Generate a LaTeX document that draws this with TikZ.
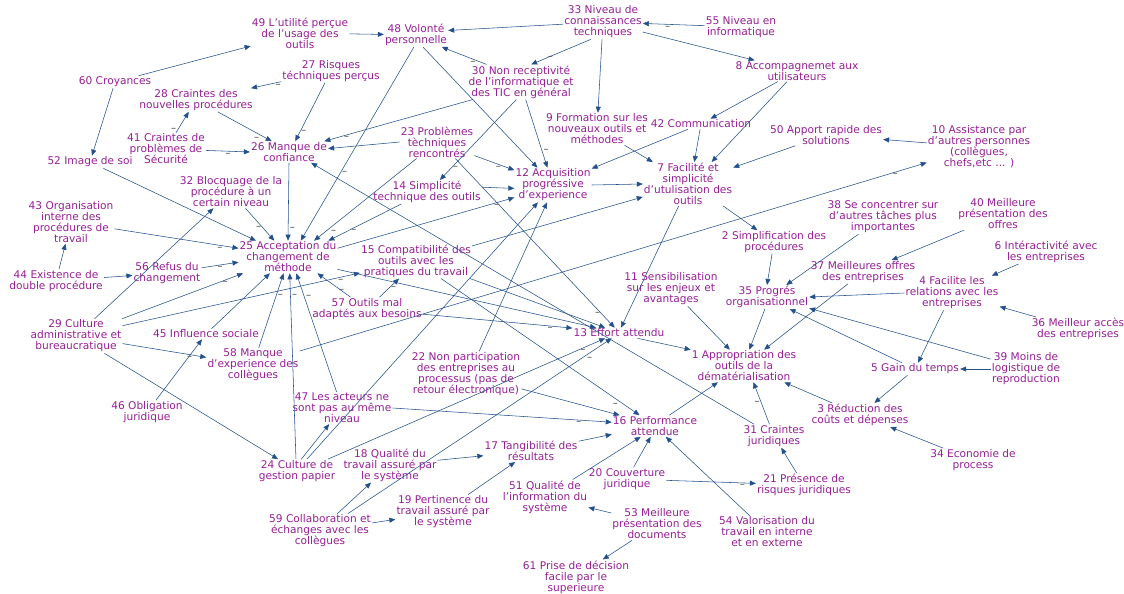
\documentclass[tikz,border=0pt]{standalone}
\usepackage{fontspec}
\setmainfont{DejaVu Sans}
\usetikzlibrary{arrows.meta}
\definecolor{varcol}{RGB}{150,30,150}
\definecolor{liencol}{RGB}{35,80,140}
\tikzset{
  var/.style={text=varcol, align=center, inner sep=1pt, font=\fontsize{10.6}{11}\selectfont},
  lien/.style={draw=liencol, line width=0.55pt, -{Triangle[length=6pt,width=5pt]}},
  moins/.style={text=black!75, inner sep=1.5pt, font=\fontsize{10}{10}\selectfont}
}
\begin{document}
\begin{tikzpicture}[x=1pt, y=-1pt]
  \useasboundingbox (0,0) rectangle (1124,594);
  % variables
  \node[var] (n49) at (300,33) {49 L'utilité perçue\\de l'usage des\\outils};
  \node[var] (n48) at (416,35) {48 Volonté\\personnelle};
  \node[var] (n33) at (603,22) {33 Niveau de\\connaissances\\techniques};
  \node[var] (n55) at (741,27) {55 Niveau en\\informatique};
  \node[var] (n8) at (797,71) {8 Accompagnemet aux\\utilisateurs};
  \node[var] (n60) at (115,82) {60 Croyances};
  \node[var] (n27) at (331,71) {27 Risques\\téchniques perçus};
  \node[var] (n28) at (196,100) {28 Craintes des\\nouvelles procédures};
  \node[var] (n30) at (521,82) {30 Non receptivité\\de l'informatique et\\des TIC en général};
  \node[var] (n9) at (597,129) {9 Formation sur les\\nouveaux outils et\\méthodes};
  \node[var] (n42) at (701,124) {42 Communication};
  \node[var] (n50) at (826,135) {50 Apport rapide des\\solutions};
  \node[var] (n10) at (979,147) {10 Assistance par\\d'autres personnes\\(collègues,\\chefs,etc ... )};
  \node[var] (n41) at (166,149) {41 Craintes de\\problèmes de\\Sécurité};
  \node[var] (n26) at (289,152) {26 Manque de\\confiance};
  \node[var] (n23) at (437,142) {23 Problèmes\\tèchniques\\rencontrés};
  \node[var] (n52) at (90,162) {52 Image de soi};
  \node[var] (n7) at (688,184) {7 Facilité et\\simplicité\\d'utulisation des\\outils};
  \node[var] (n12) at (553,185) {12 Acquisition\\progréssive\\d'experience};
  \node[var] (n14) at (427,192) {14 Simplicité\\technique des outils};
  \node[var] (n32) at (231,192) {32 Blocquage de la\\procédure à un\\certain niveau};
  \node[var] (n43) at (71,222) {43 Organisation\\interne des\\procédures de\\travail};
  \node[var] (n38) at (883,217) {38 Se concentrer sur\\d'autres tâches plus\\importantes};
  \node[var] (n40) at (1003,214) {40 Meilleure\\présentation des\\offres};
  \node[var] (n2) at (774,242) {2 Simplification des\\procédures};
  \node[var] (n25) at (288,257) {25 Acceptation du\\changement de\\méthode};
  \node[var] (n15) at (416,261) {15 Compatibilité des\\outils avec les\\pratiques du travail};
  \node[var] (n6) at (1046,252) {6 Intéractivité avec\\les entreprises};
  \node[var] (n37) at (863,272) {37 Meilleures offres\\des entreprises};
  \node[var] (n44) at (56,281) {44 Existence de\\double procédure};
  \node[var] (n56) at (167,273) {56 Refus du\\changement};
  \node[var] (n11) at (671,289) {11 Sensibilisation\\sur les enjeux et\\avantages};
  \node[var] (n35) at (767,297) {35 Progrés\\organisationnel};
  \node[var] (n4) at (952,293) {4 Facilite les\\relations avec les\\entreprises};
  \node[var] (n36) at (1078,329) {36 Meilleur accès\\des entreprises};
  \node[var] (n57) at (367,309) {57 Outils mal\\adaptés aux besoins};
  \node[var] (n29) at (76,336) {29 Culture\\administrative et\\bureaucratique};
  \node[var] (n45) at (206,334) {45 Influence sociale};
  \node[var] (n13) at (619,333) {13 Effort attendu};
  \node[var] (n58) at (253,365) {58 Manque\\d'experience des\\collègues};
  \node[var] (n1) at (744,366) {1 Appropriation des\\outils de la\\dématérialisation};
  \node[var] (n22) at (466,374) {22 Non participation\\des entreprises au\\processus (pas de\\retour électronique)};
  \node[var] (n39) at (1026,369) {39 Moins de\\logistique de\\reproduction};
  \node[var] (n5) at (915,369) {5 Gain du temps};
  \node[var] (n47) at (342,408) {47 Les acteurs ne\\sont pas au même\\niveau};
  \node[var] (n46) at (147,412) {46 Obligation\\juridique};
  \node[var] (n3) at (860,415) {3 Réduction des\\coûts et dépenses};
  \node[var] (n16) at (655,426) {16 Performance\\attendue};
  \node[var] (n31) at (774,436) {31 Craintes\\juridiques};
  \node[var] (n34) at (973,460) {34 Economie de\\process};
  \node[var] (n24) at (297,471) {24 Culture de\\gestion papier};
  \node[var] (n18) at (390,465) {18 Qualité du\\travail assuré par\\le système};
  \node[var] (n17) at (531,451) {17 Tangibilité des\\résultats};
  \node[var] (n20) at (627,479) {20 Couverture\\juridique};
  \node[var] (n21) at (804,485) {21 Présence de\\risques juridiques};
  \node[var] (n51) at (545,497) {51 Qualité de\\l'information du\\système};
  \node[var] (n59) at (320,531) {59 Collaboration et\\échanges avec les\\collègues};
  \node[var] (n19) at (443,512) {19 Pertinence du\\travail assuré par\\le système};
  \node[var] (n53) at (657,524) {53 Meilleure\\présentation des\\documents};
  \node[var] (n54) at (767,532) {54 Valorisation du\\travail en interne\\et en externe};
  \node[var] (n61) at (576,577) {61 Prise de décision\\facile par le\\superieure};

  % liens du haut
  \draw[lien] (n60) -- (n49);
  \draw[lien] (n60) -- (n52);
  \draw[lien] (n49) -- (n48);
  \draw[lien] (n33) -- (n48.8);
  \draw[lien] (n30.153) -- node[moins, pos=.3, below]{–} (n48.-25);
  \draw[lien] (n33.235) -- node[moins, pos=.75, right]{–} (n30.60);
  \draw[lien] (n55) -- node[moins, pos=.6, below]{–} (n33);
  \draw[lien] (n33) -- (n8);
  \draw[lien] (n33) -- (n9);
  \draw[lien] (n8) -- (n42);
  \draw[lien] (n8) -- (n7.43);
  \draw[lien] (n42) -- (n7.74);
  \draw[lien] (n42) -- (n12.23);
  \draw[lien] (n9) -- (n7.148);
  \draw[lien] (n50) -- (n7.20);
  \draw[lien] (n10) -- (n50);
  \draw[lien] (n12.east) -- (n7.west);
  \draw[lien] (n27) -- node[moins, pos=.1, below]{–} (n28);
  \draw[lien] (n27) -- node[moins, pos=.85, right]{–} (n26.60);
  \draw[lien] (n28) -- node[moins, pos=.8, below left]{–} (n26.148);
  \draw[lien] (n41) -- node[moins, pos=.15, left]{–} (n28);
  \draw[lien] (n41) -- node[moins, pos=.5, below]{–} (n26.west);
  \draw[lien] (n30.200) -- node[moins, pos=.85, below]{–} (n26.17);
  \draw[lien] (n23.west) -- (n26.5);
  \draw[lien] (n31) -- (n26.334);
  \draw[lien] (n26.south) -- node[moins, pos=.85, right]{–} (n25.north);
  \draw[lien] (n48.260) -- node[moins, pos=.65, right]{–} (n25.52);
  \draw[lien] (n48.300) -- (n12.132);
  \draw[lien] (n30.255) -- node[moins, pos=.85, right]{–} (n14.43);
  \draw[lien] (n30.285) -- node[moins, pos=.75, right]{–} (n12.108);
  \draw[lien] (n23.-20) -- node[moins, pos=.6, below]{–} (n12.159);
  \draw[lien] (n23.318) -- node[moins, pos=.92, left]{–} (n13.129);
  \draw[lien] (n23.219) -- node[moins, pos=.85, below right]{–} (n25.32);
  \draw[lien] (n14.205) -- node[moins, pos=.65, below]{–} (n25.22);
  \draw[lien] (n14.5) -- (n12.185);
  \draw[lien] (n25.10) -- node[moins, pos=.9, below]{–} (n12.198);
  \draw[lien] (n15.15) -- (n7.196);
  % liens autour de 25
  \draw[lien] (n52) -- (n25.153);
  \draw[lien] (n32) -- node[moins, pos=.6, left]{–} (n25.130);
  \draw[lien] (n43) -- node[moins, pos=.85, below]{–} (n25.170);
  \draw[lien] (n44) -- (n43);
  \draw[lien] (n44) -- (n56);
  \draw[lien] (n56) -- node[moins, pos=.5, below]{–} (n25.186);
  \draw[lien] (n29) -- node[moins, pos=.85, below]{–} (n25.200);
  \draw[lien] (n29) -- (n32);
  \draw[lien] (n29) -- node[moins, pos=.92, below]{–} (n15.192);
  \draw[lien] (n29) -- node[moins, pos=.8, below]{–} (n58);
  \draw[lien] (n29) -- (n24.148);
  \draw[lien] (n45) -- (n25.222);
  \draw[lien] (n58) -- node[moins, pos=.7, right]{–} (n25.255);
  \draw[lien] (n46) -- (n45);
  \draw[lien] (n24.95) -- node[moins, pos=.88, right]{–} (n25.276);
  \draw[lien] (n47) -- node[moins, pos=.8, right]{–} (n25.297);
  \draw[lien] (n57) -- node[moins, pos=.4, below right]{–} (n25.331);
  \draw[lien] (n57) -- node[moins, pos=.5, right]{–} (n15.226);
  \draw[lien] (n57) -- node[moins, pos=.85, below]{–} (n13.174);
  \draw[lien] (n25.-14) -- (n13.167);
  \draw[lien] (n15.-18) -- (n13.159);
  \draw[lien] (n15.325) -- node[moins, pos=.9, below left]{–} (n16.145);
  \draw[lien] (n58) -- node[moins, pos=.95, below]{–} (n10);
  % liens de droite
  \draw[lien] (n7.247) -- (n13.70);
  \draw[lien] (n7.328) -- (n2);
  \draw[lien] (n2) -- (n35.north);
  \draw[lien] (n38) -- (n35.32);
  \draw[lien] (n4.west) -- (n35.east);
  \draw[lien] (n40) -- (n37);
  \draw[lien] (n37) -- (n1.39);
  \draw[lien] (n39) -- (n35.345);
  \draw[lien] (n5) -- (n35.332);
  \draw[lien] (n4) -- (n5);
  \draw[lien] (n6) -- (n4);
  \draw[lien] (n36) -- (n4);
  \draw[lien] (n39) -- (n5);
  \draw[lien] (n5) -- (n3);
  \draw[lien] (n34) -- (n3);
  \draw[lien] (n35.260) -- (n1.72);
  \draw[lien] (n11) -- (n1.131);
  \draw[lien] (n13.344) -- (n1.163);
  \draw[lien] (n16.37) -- (n1.212);
  \draw[lien] (n31) -- node[moins, pos=.5, left]{–} (n1.300);
  \draw[lien] (n3) -- (n1.338);
  % liens du bas
  \draw[lien] (n17) -- (n16.191);
  \draw[lien] (n47.east) -- node[moins, pos=.85, below]{–} (n16.175);
  \draw[lien] (n22.-15) -- (n16.163);
  \draw[lien] (n22.60) -- (n12.251);
  \draw[lien] (n24.50) -- (n12.229);
  \draw[lien] (n24.21) -- node[moins, pos=.92, below]{–} (n13.201);
  \draw[lien] (n59.32) -- node[moins, pos=.9, below right]{–} (n13.216);
  \draw[lien] (n24.70) -- (n47);
  \draw[lien] (n59.45) -- (n18);
  \draw[lien] (n59) -- (n19);
  \draw[lien] (n18) -- (n17);
  \draw[lien] (n19) -- (n17);
  \draw[lien] (n51) -- (n16.217);
  \draw[lien] (n20) -- (n16.248);
  \draw[lien] (n54) -- (n16.315);
  \draw[lien] (n20) -- node[moins, pos=.85, below]{–} (n21);
  \draw[lien] (n21) -- (n31);
  \draw[lien] (n53) -- (n51);
  \draw[lien] (n53) -- (n61);
\end{tikzpicture}
\end{document}
